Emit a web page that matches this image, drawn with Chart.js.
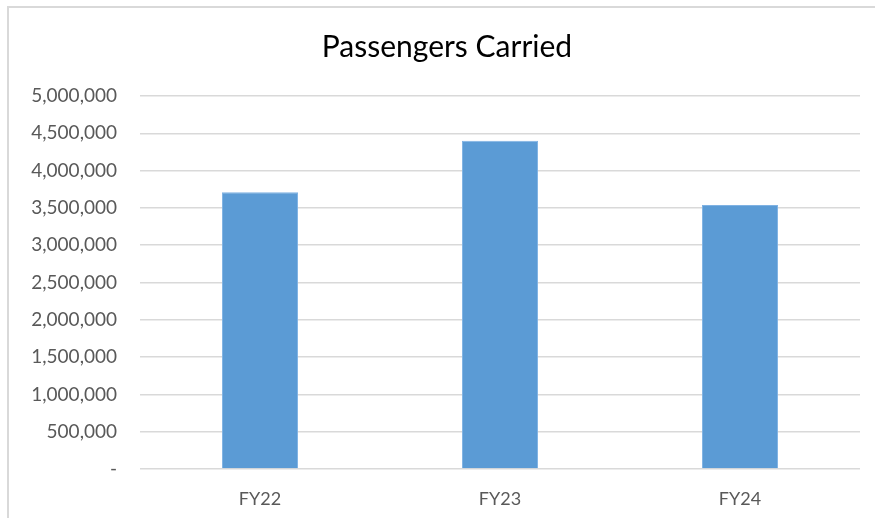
<!DOCTYPE html>
<html>
<head>
<meta charset="utf-8">
<script src="https://cdn.jsdelivr.net/npm/chart.js@4.4.0/dist/chart.umd.min.js"></script>
<style>
  html, body { margin: 0; padding: 0; background: #ffffff; }
  #wrap { position: relative; width: 875px; height: 518px; overflow: hidden; background: #fff; }
  #frame { position: absolute; left: 7px; top: 6px; width: 900px; height: 560px; border: 2px solid #d9d9d9; box-sizing: border-box; }
  canvas { position: absolute; left: 0; top: 0; }
</style>
</head>
<body>
<div id="wrap">
  <div id="frame"></div>
  <canvas id="c" width="875" height="518"></canvas>
</div>
<script>
const categories = ["FY22", "FY23", "FY24"];
const passengers = [3710000, 4400000, 3540000];
const yTicks = [0, 500000, 1000000, 1500000, 2000000, 2500000, 3000000, 3500000, 4000000, 4500000, 5000000];
const chartTitle = "Passengers Carried";

const fmt = v => v === 0 ? "-" : v.toLocaleString("en-US");

const titlePlugin = {
  id: "frameTitle",
  afterDraw(chart) {
    const ctx = chart.ctx;
    ctx.save();
    ctx.font = "normal 30px Lato";
    ctx.fillStyle = "#000000";
    ctx.textAlign = "center";
    ctx.textBaseline = "middle";
    ctx.fillText(chartTitle, 447, 47);
    ctx.restore();
  }
};

new Chart(document.getElementById("c"), {
  type: "bar",
  data: {
    labels: categories,
    datasets: [{
      data: passengers,
      backgroundColor: "#5b9bd5",
      borderColor: "#7fb2e3",
      borderWidth: 1,
      categoryPercentage: 1,
      barPercentage: 0.317
    }]
  },
  options: {
    responsive: false,
    animation: false,
    layout: { padding: { left: 0, right: 15, top: 96, bottom: 0 } },
    plugins: {
      legend: { display: false },
      tooltip: { enabled: false },
      title: { display: false }
    },
    scales: {
      x: {
        grid: { display: false },
        border: { display: false },
        ticks: { color: "#595959", font: { family: "Lato", size: 18 }, padding: 11 },
        afterFit: s => { s.height = 49; }
      },
      y: {
        min: 0, max: 5000000,
        afterBuildTicks: s => { s.ticks = yTicks.map(v => ({ value: v })); },
        grid: { color: "#d9d9d9", lineWidth: 1.5, drawTicks: false },
        border: { display: false },
        ticks: { color: "#595959", font: { family: "Lato", size: 19 }, padding: 23, callback: v => fmt(v) },
        afterFit: s => { s.width = 140; }
      }
    }
  },
  plugins: [titlePlugin]
});
</script>
</body>
</html>
